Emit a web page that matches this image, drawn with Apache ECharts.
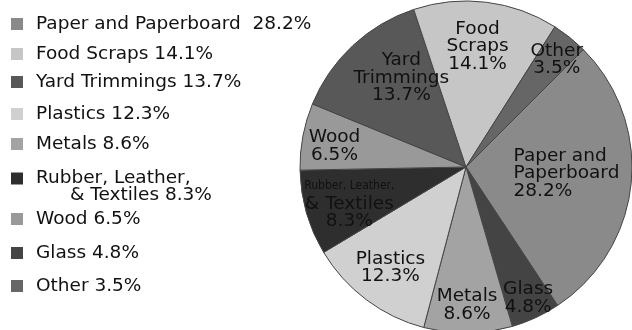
<!DOCTYPE html>
<html>
<head>
<meta charset="utf-8">
<script src="https://cdn.jsdelivr.net/npm/echarts@6/dist/echarts.min.js"></script>
<style>html,body{margin:0;padding:0;background:#fff;}#c{width:632px;height:330px;}</style>
</head>
<body>
<div id="c"></div>
<script>
// Legend order
const categories = ['Paper and Paperboard', 'Food Scraps', 'Yard Trimmings', 'Plastics', 'Metals', 'Rubber, Leather, & Textiles', 'Wood', 'Glass', 'Other'];
const values = [28.2, 14.1, 13.7, 12.3, 8.6, 8.3, 6.5, 4.8, 3.5];
// Order of slices clockwise in the pie
const pieOrder = ['Paper and Paperboard', 'Glass', 'Metals', 'Plastics', 'Rubber, Leather, & Textiles', 'Wood', 'Yard Trimmings', 'Food Scraps', 'Other'];
const pieLabelText = {
  'Paper and Paperboard': 'Paper and\nPaperboard\n28.2%',
  'Glass': 'Glass\n4.8%',
  'Metals': 'Metals\n8.6%',
  'Plastics': 'Plastics\n12.3%',
  'Rubber, Leather, & Textiles': '{s|Rubber, Leather,}\n{m|& Textiles}\n{m|8.3%}',
  'Wood': 'Wood\n6.5%',
  'Yard Trimmings': 'Yard\nTrimmings\n13.7%',
  'Food Scraps': 'Food\nScraps\n14.1%',
  'Other': 'Other\n3.5%'
};
const legendText = {
  'Paper and Paperboard': 'Paper and Paperboard  28.2%',
  'Food Scraps': 'Food Scraps 14.1%',
  'Yard Trimmings': 'Yard Trimmings 13.7%',
  'Plastics': 'Plastics 12.3%',
  'Metals': 'Metals 8.6%',
  'Rubber, Leather, & Textiles': '{e| }\n{t|Rubber, Leather,}\n{i|& Textiles 8.3%}',
  'Wood': 'Wood 6.5%',
  'Glass': 'Glass 4.8%',
  'Other': 'Other 3.5%'
};
const colors = {
  'Paper and Paperboard': '#8a8a8a',
  'Food Scraps': '#c6c6c6',
  'Yard Trimmings': '#585858',
  'Plastics': '#d0d0d0',
  'Metals': '#a3a3a3',
  'Rubber, Leather, & Textiles': '#2e2e2e',
  'Wood': '#999999',
  'Glass': '#444444',
  'Other': '#666666'
};
// layout: label offsets per slice (pie order), legend icon centres (legend order)
const labelShift = [[-38, -2, 'left'], [26, 53], [0, 52], [-24, 32], [-34, 13], [-47, -5], [-6, -26], [1, -35], [37, -40]];
const legendCenters = [23, 53, 81, 113, 143, 178, 218, 252, 285];

const chart = echarts.init(document.getElementById('c'), null, {renderer: 'canvas'});
const font = 'DejaVu Sans';
const fs = 18.5;

const pieData = pieOrder.map(n => ({
  name: n,
  value: values[categories.indexOf(n)],
  itemStyle: {color: colors[n]}
}));

const legends = categories.map((n, i) => {
  const rub = n.startsWith('Rubber');
  return {
    data: [n],
    left: 11,
    top: legendCenters[i] - (rub ? 26 : 8.5),
    padding: 0,
    itemWidth: 12,
    itemHeight: 12,
    icon: 'rect',
    itemStyle: {borderWidth: 0},
    selectedMode: false,
    formatter: () => legendText[n],
    textStyle: {
      fontFamily: font, fontSize: fs, color: '#111', lineHeight: 17,
      padding: [0, 0, 0, 8],
      rich: {
        e: {fontFamily: font, fontSize: fs, lineHeight: 17, color: '#111'},
        t: {fontFamily: font, fontSize: fs, lineHeight: 17, color: '#111'},
        i: {fontFamily: font, fontSize: fs, lineHeight: 17, color: '#111', padding: [0, 0, 0, 34]}
      }
    }
  };
});

chart.setOption({
  animation: false,
  legend: legends,
  series: [{
    type: 'pie',
    center: [466, 167],
    radius: 166,
    startAngle: 45,
    clockwise: true,
    data: pieData,
    itemStyle: {borderColor: '#444', borderWidth: 1},
    label: {
      position: 'inside',
      formatter: p => pieLabelText[p.name],
      fontFamily: font, fontSize: fs, color: '#111', lineHeight: 17.5,
      rich: {
        s: {fontFamily: 'DejaVu Sans Condensed', fontSize: 12, color: '#111', lineHeight: 17.5},
        m: {fontFamily: font, fontSize: fs, color: '#111', lineHeight: 17.5}
      }
    },
    labelLine: {show: false},
    labelLayout: p => {
      const s = labelShift[p.dataIndex];
      const o = {dx: s[0], dy: s[1]};
      if (s[2]) o.align = s[2];
      return o;
    },
    emphasis: {disabled: true}
  }]
});
</script>
</body>
</html>
